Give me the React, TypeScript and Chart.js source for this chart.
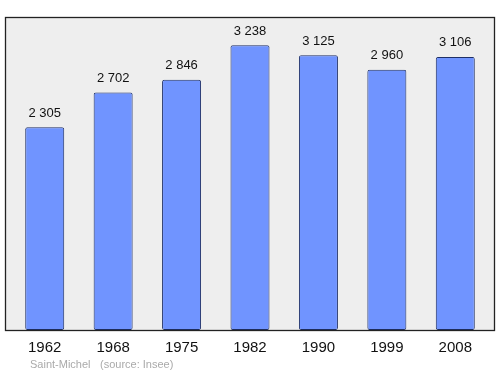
import React, { useEffect, useRef } from "react";
import { Chart, registerables } from "chart.js";

Chart.register(...registerables);

const years = ["1962", "1968", "1975", "1982", "1990", "1999", "2008"];
const population = [2305, 2702, 2846, 3238, 3125, 2960, 3106];
const valueLabels = ["2 305", "2 702", "2 846", "3 238", "3 125", "2 960", "3 106"];
const townName = "Saint-Michel";
const sourceText = "(source: Insee)";

const FONT = "'Liberation Sans', Arial, sans-serif";

const decor = {
  id: "decor",
  beforeDatasetsDraw(chart: any) {
    const { ctx, chartArea } = chart;
    const l = 5, r = 495, t = chartArea.top, b = chartArea.bottom;
    ctx.save();
    ctx.fillStyle = "#eeeeee";
    ctx.fillRect(l, t, r - l, b - t);
    ctx.restore();
  },
  afterDatasetsDraw(chart: any) {
    const { ctx, chartArea, scales } = chart;
    const l = 5, r = 495, t = chartArea.top, b = chartArea.bottom;
    ctx.save();
    ctx.strokeStyle = "#222222";
    ctx.lineWidth = 1.3;
    ctx.strokeRect(l + 0.5, t + 0.5, r - l - 1, b - t);
    const x = scales.x;
    const y = scales.y;
    ctx.fillStyle = "#111111";
    ctx.textAlign = "center";
    ctx.textBaseline = "middle";
    ctx.font = `13px ${FONT}`;
    population.forEach((v, i) => {
      ctx.fillText(valueLabels[i], x.getPixelForValue(i), y.getPixelForValue(v) - 14);
    });
    ctx.font = `15px ${FONT}`;
    years.forEach((yr, i) => {
      ctx.fillText(yr, x.getPixelForValue(i), 347.5);
    });
    ctx.fillStyle = "#aaaaaa";
    ctx.font = `11px ${FONT}`;
    ctx.textAlign = "left";
    ctx.fillText(townName, 30, 364.5);
    ctx.fillText(sourceText, 100, 364.5);
    ctx.restore();
  },
};

export default function App() {
  const ref = useRef<HTMLCanvasElement | null>(null);
  useEffect(() => {
    document.body.style.margin = "0";
    const chart = new Chart(ref.current!, {
      type: "bar",
      data: {
        labels: years,
        datasets: [
          {
            data: population,
            backgroundColor: "#7094ff",
            borderColor: "#1e2f66",
            borderWidth: 1,
            borderRadius: 2,
            borderSkipped: false,
            barPercentage: 0.57,
            categoryPercentage: 1,
          },
        ],
      },
      options: {
        animation: false,
        responsive: false,
        devicePixelRatio: 1,
        layout: { padding: { left: 10.5, right: 10.5, top: 17, bottom: 44 } },
        plugins: { legend: { display: false }, tooltip: { enabled: false } },
        scales: {
          x: { display: false },
          y: { display: false, min: 0, max: 3560 },
        },
      },
      plugins: [decor],
    });
    return () => chart.destroy();
  }, []);
  return <canvas ref={ref} width={500} height={374} style={{ display: "block" }} />;
}
